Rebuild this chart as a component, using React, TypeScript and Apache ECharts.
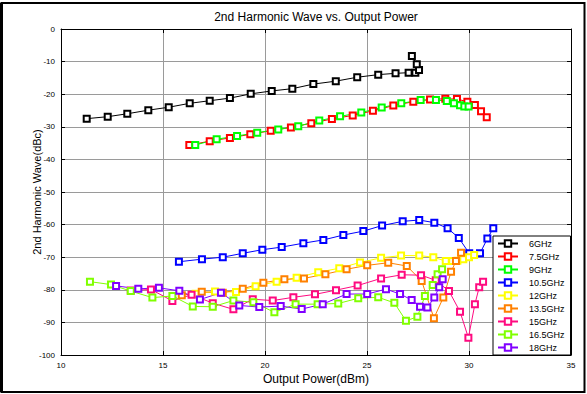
import React, { useEffect, useRef } from 'react';
import * as echarts from 'echarts';

const seriesNames = ['6GHz', '7.5GHz', '9GHz', '10.5GHz', '12GHz', '13.5GHz', '15GHz', '16.5GHz', '18GHz'];
const seriesColors = ['#000000', '#ff0000', '#00ff00', '#0000ff', '#ffff00', '#ff8000', '#ff0a80', '#80ff00', '#8000ff'];

const s6GHz = [[11.26,-27.5],[12.29,-26.9],[13.25,-26.0],[14.28,-24.9],[15.28,-24.0],[16.31,-22.8],[17.29,-22.0],[18.28,-21.2],[19.3,-19.9],[20.33,-19.0],[21.34,-18.3],[22.37,-16.9],[23.47,-16.0],[24.52,-14.8],[25.55,-14.0],[26.4,-13.6],[27.04,-13.4],[27.37,-13.4],[27.55,-12.6],[27.44,-10.8],[27.2,-8.3]];
const s7_5GHz = [[16.29,-35.6],[17.29,-34.4],[18.28,-33.4],[19.28,-32.3],[20.28,-31.2],[21.27,-30.2],[22.27,-28.9],[23.28,-27.6],[24.3,-26.5],[25.29,-25.1],[26.29,-23.5],[27.27,-22.3],[28.09,-21.6],[28.84,-21.4],[29.41,-21.5],[29.92,-22.3],[30.29,-23.3],[30.59,-25.2],[30.87,-27.1]];
const s9GHz = [[16.58,-35.6],[17.63,-33.8],[18.63,-32.8],[19.62,-31.8],[20.65,-30.8],[21.63,-29.8],[22.66,-28.1],[23.68,-26.8],[24.72,-25.6],[25.72,-24.1],[26.68,-22.8],[27.63,-21.8],[28.38,-21.8],[28.91,-22.1],[29.26,-22.8],[29.56,-23.4],[29.77,-23.8],[29.98,-23.8]];
const s10_5GHz = [[15.78,-71.4],[16.91,-70.6],[17.93,-70.0],[18.91,-68.8],[19.87,-67.7],[20.82,-66.9],[21.88,-65.7],[22.86,-64.7],[23.84,-63.2],[24.82,-62.0],[25.74,-60.3],[26.75,-59.0],[27.56,-58.6],[28.3,-59.4],[28.95,-61.1],[29.5,-64.1],[30.01,-68.8],[30.54,-68.8],[30.9,-64.3],[31.19,-61.1]];
const s12GHz = [[16.6,-81.2],[17.55,-80.5],[18.58,-80.7],[19.54,-78.9],[20.57,-77.5],[21.55,-76.3],[22.61,-74.6],[23.64,-73.4],[24.66,-71.6],[25.69,-70.2],[26.67,-69.5],[27.56,-69.5],[28.25,-70.0],[28.86,-71.2],[29.18,-71.2],[29.43,-71.1],[29.72,-70.6],[30.0,-70.0],[30.25,-69.3]];
const s13_5GHz = [[15.92,-81.7],[16.9,-80.6],[17.93,-80.9],[18.91,-79.7],[19.92,-77.8],[20.95,-76.8],[21.91,-76.5],[22.96,-75.2],[24.0,-73.7],[25.01,-72.5],[26.04,-71.7],[26.95,-72.7],[27.68,-77.3],[28.28,-88.7],[28.74,-82.4],[29.12,-74.5],[29.36,-71.2],[29.61,-68.6]];
const s15GHz = [[13.42,-80.2],[14.41,-79.9],[15.46,-83.4],[16.4,-81.5],[17.44,-84.1],[18.45,-86.0],[19.4,-82.9],[20.38,-83.3],[21.39,-82.3],[22.45,-81.4],[23.48,-80.1],[24.54,-78.7],[25.69,-76.5],[26.7,-75.4],[27.65,-75.5],[28.37,-77.1],[29.02,-80.4],[29.56,-86.7],[29.97,-94.7],[30.29,-84.4],[30.5,-79.2],[30.69,-77.5]];
const s16_5GHz = [[11.42,-77.5],[12.45,-78.4],[13.42,-80.4],[14.48,-82.4],[15.46,-81.9],[16.46,-85.1],[17.44,-85.2],[18.45,-83.3],[19.43,-83.8],[20.46,-86.9],[21.5,-84.4],[22.58,-84.4],[23.59,-84.2],[24.57,-82.6],[25.55,-82.3],[26.34,-84.0],[26.91,-89.5],[27.47,-88.3],[27.84,-81.9],[28.22,-78.5],[28.46,-75.2],[28.68,-73.7]];
const s18GHz = [[12.7,-78.8],[13.79,-79.7],[14.8,-79.4],[15.8,-80.3],[16.81,-83.0],[17.84,-80.9],[18.74,-84.8],[19.72,-85.3],[20.77,-85.0],[21.8,-85.9],[22.83,-84.4],[24.0,-81.3],[25.01,-81.3],[25.93,-79.8],[26.62,-81.3],[27.19,-83.1],[27.6,-85.2],[27.96,-85.4],[28.3,-82.4],[28.54,-79.2],[28.71,-76.8]];

const allSeries = [s6GHz, s7_5GHz, s9GHz, s10_5GHz, s12GHz, s13_5GHz, s15GHz, s16_5GHz, s18GHz];

const titleText = '2nd Harmonic Wave vs. Output Power';
const xName = 'Output Power(dBm)';
const yName = '2nd Harmonic Wave(dBc)';

const FONT = "'Liberation Sans', Arial, sans-serif";

export default function App() {
  const ref = useRef<HTMLDivElement>(null);
  useEffect(() => {
    if (!ref.current) return;
    const chart = echarts.init(ref.current, undefined, { renderer: 'svg' });
    const axisCommon = {
      type: 'value' as const,
      axisLine: { show: true, onZero: false, lineStyle: { color: '#000', width: 1 } },
      axisTick: { show: true, inside: true, length: 4, lineStyle: { color: '#000', width: 1 } },
    };
    chart.setOption({
      animation: false,
      backgroundColor: '#fff',
      textStyle: { fontFamily: FONT },
      grid: { left: 61, top: 29, right: 16, bottom: 39, containLabel: false },
      graphic: [
        { type: 'rect', shape: { x: 1.5, y: 3, width: 583, height: 389 }, style: { fill: 'none', stroke: '#000', lineWidth: 2 }, z: 100 },
        { type: 'rect', shape: { x: 0, y: 3, width: 3, height: 389 }, style: { fill: '#000' }, z: 100 },
        { type: 'text', x: 316, y: 17, style: { text: titleText, fontSize: 12, fontFamily: FONT, fill: '#000', align: 'center', verticalAlign: 'middle' }, z: 100 },
      ],
      xAxis: [
        {
          ...axisCommon,
          position: 'bottom',
          min: 10, max: 35, interval: 5,
          axisLabel: { fontSize: 8, color: '#000', margin: 6, fontFamily: FONT },
          splitLine: { show: true, lineStyle: { color: '#9a9a9a', width: 1 } },
          name: xName, nameLocation: 'middle', nameGap: 18, nameMoveOverlap: false,
          nameTextStyle: { fontSize: 12, color: '#000', fontFamily: FONT },
        },
        {
          ...axisCommon,
          position: 'top',
          min: 10, max: 35, interval: 5,
          axisLabel: { show: false },
          splitLine: { show: false },
        },
      ],
      yAxis: [
        {
          ...axisCommon,
          position: 'left',
          min: -100, max: 0, interval: 10,
          axisLabel: { fontSize: 8, color: '#000', margin: 6, fontFamily: FONT },
          splitLine: { show: true, lineStyle: { color: '#9a9a9a', width: 1 } },
          name: yName, nameLocation: 'middle', nameGap: 19, nameMoveOverlap: false,
          nameTextStyle: { fontSize: 11, color: '#000', fontFamily: FONT },
        },
        {
          ...axisCommon,
          position: 'right',
          min: -100, max: 0, interval: 10,
          axisLabel: { show: false },
          splitLine: { show: false },
        },
      ],
      legend: {
        orient: 'vertical',
        left: 493,
        top: 236,
        data: seriesNames,
        itemWidth: 20,
        itemHeight: 8,
        itemGap: 4,
        padding: [3, 6, 3, 4],
        backgroundColor: '#fff',
        borderColor: '#000',
        borderWidth: 1,
        borderRadius: 0,
        textStyle: { fontSize: 9, color: '#000', fontFamily: FONT, padding: [0, 0, 0, 6] },
      },
      series: allSeries.map((d, i) => ({
        name: seriesNames[i],
        type: 'line',
        data: d,
        xAxisIndex: 0,
        yAxisIndex: 0,
        symbol: 'emptyRect',
        symbolSize: 6,
        showAllSymbol: true,
        color: seriesColors[i],
        lineStyle: { color: seriesColors[i], width: 1 },
        itemStyle: { color: seriesColors[i], borderColor: seriesColors[i], borderWidth: 1 },
        emphasis: { disabled: true },
      })),
    });
    return () => chart.dispose();
  }, []);
  return <div ref={ref} style={{ position: 'fixed', left: 0, top: 0, width: 587, height: 394, background: '#fff' }} />;
}
